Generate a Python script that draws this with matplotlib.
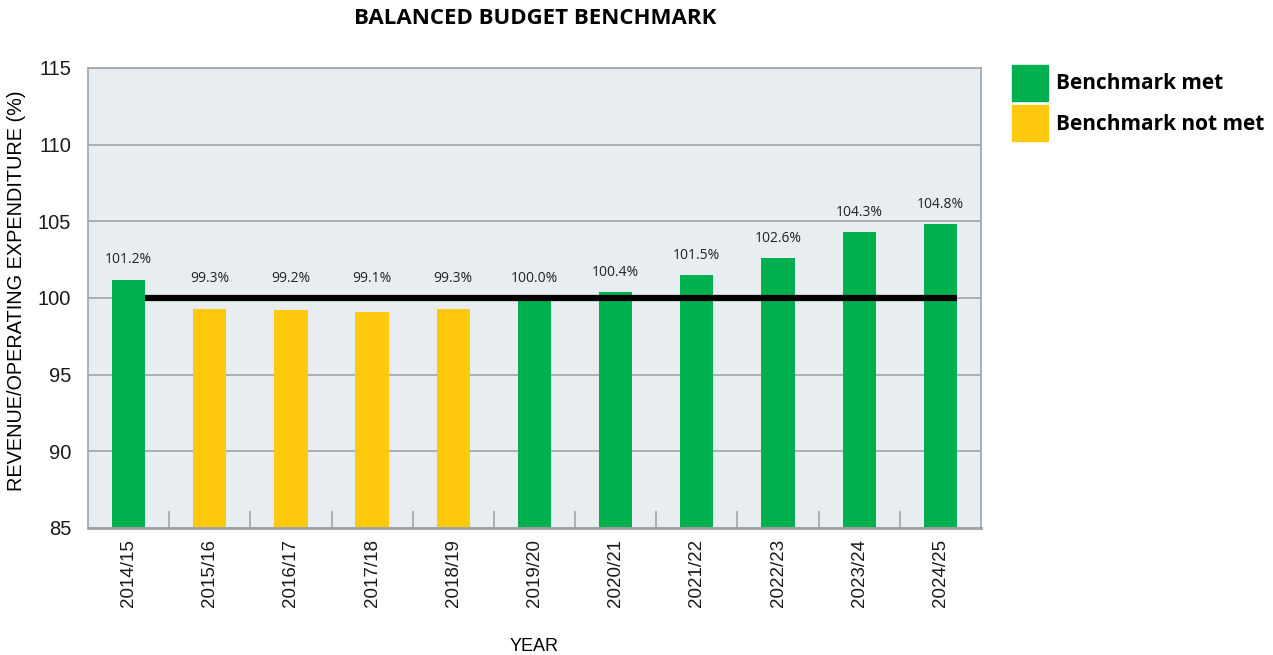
import numpy as np
import matplotlib.pyplot as plt
from matplotlib.patches import Patch

years = ['2014/15', '2015/16', '2016/17', '2017/18', '2018/19', '2019/20',
         '2020/21', '2021/22', '2022/23', '2023/24', '2024/25']
ratio = [101.2, 99.3, 99.2, 99.1, 99.3, 100.0, 100.4, 101.5, 102.6, 104.3, 104.8]
benchmark = 100

green = '#00b04f'
yellow = '#ffc90e'
grey = '#a0a4a8'

colors = [green if r >= benchmark else yellow for r in ratio]
x = np.arange(len(years))

fig = plt.figure(figsize=(12.73, 6.55), dpi=100)
ax = fig.add_axes([0.0691, 0.1939, 0.7015, 0.7023])
ax.set_facecolor('#e8edf1')

ax.bar(x, [r - 85 for r in ratio], bottom=85, width=0.41, color=colors, zorder=2)
ax.hlines(benchmark, x[0] + 0.2, x[-1] + 0.2, color='black', linewidth=4.5, zorder=3)

# labels sit above whichever is higher: the bar or the benchmark line
for xi, r in zip(x, ratio):
    ax.text(xi, max(r, benchmark) + 0.8, f'{r:.1f}%', ha='center', va='bottom',
            fontsize=10, family='Open Sans', color='#222222')

ax.set_xlim(-0.5, len(years) - 0.5)
ax.set_ylim(85, 115)
ax.set_yticks(range(85, 116, 5))
ax.yaxis.grid(True, color=grey, linewidth=1.2, zorder=1)
ax.set_axisbelow(True)
ax.tick_params(axis='y', length=0, labelsize=14.5, pad=12)

ax.set_xticks(x)
ax.set_xticklabels(years, rotation=90, fontsize=13.5)
ax.set_xticks(x[:-1] + 0.5, minor=True)
ax.tick_params(axis='x', which='major', length=0, pad=8)
ax.tick_params(axis='x', which='minor', direction='in', length=12, color=grey, width=1.2)

for s in ax.spines.values():
    s.set_color(grey)
    s.set_linewidth(1.2)
ax.spines['bottom'].set_linewidth(2)

for lab in ax.get_xticklabels() + ax.get_yticklabels():
    lab.set_family('Liberation Sans')
    lab.set_color('#1a1a1a')

ax.set_ylabel('REVENUE/OPERATING EXPENDITURE (%)', fontsize=14.3, family='Liberation Sans')
ax.yaxis.set_label_coords(-0.069, 0.515)
ax.set_xlabel('YEAR', fontsize=13, family='Liberation Sans', labelpad=22)
fig.text(0.4205, 0.972, 'BALANCED BUDGET BENCHMARK', ha='center', va='center',
         fontsize=16, fontweight='bold', family='Open Sans')

handles = [Patch(color=green, label='Benchmark met'),
           Patch(color=yellow, label='Benchmark not met')]
fig.legend(handles=handles, loc='upper left', bbox_to_anchor=(0.795, 0.9008), frameon=False,
           prop={'family': 'Open Sans', 'weight': 'bold', 'size': 15},
           handlelength=1.73, handleheight=2.28, handletextpad=0.4, labelspacing=0.2,
           borderaxespad=0, borderpad=0)

fig.savefig('out.png', dpi=100)
